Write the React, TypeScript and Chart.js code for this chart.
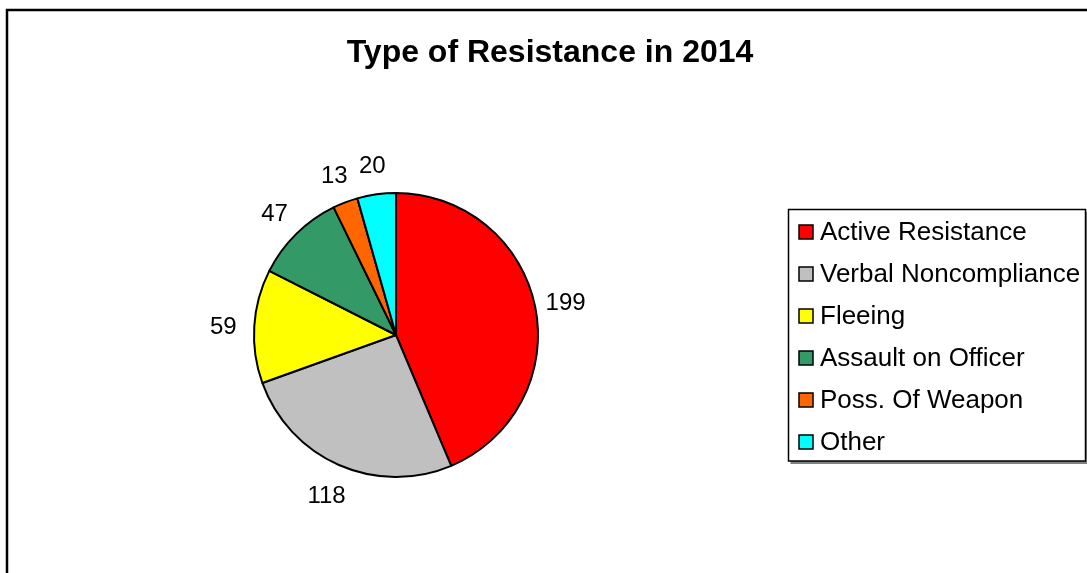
import React, { useEffect, useRef } from "react";
import { Chart, registerables } from "chart.js";

Chart.register(...registerables);

// Resistance types recorded in 2014
const categories = [
  "Active Resistance",
  "Verbal Noncompliance",
  "Fleeing",
  "Assault on Officer",
  "Poss. Of Weapon",
  "Other",
];
const counts = [199, 118, 59, 47, 13, 20];
const sliceColors = ["#FF0000", "#C0C0C0", "#FFFF00", "#339966", "#FF6600", "#00FFFF"];
const chartTitle = "Type of Resistance in 2014";

const W = 1087;
const H = 573;
const FONT = '"Liberation Sans", Arial, Helvetica, sans-serif';

// White page with the outer frame of the chart object
const framePlugin = {
  id: "frame",
  beforeDraw(chart: any) {
    const ctx = chart.ctx;
    ctx.save();
    ctx.fillStyle = "#FFFFFF";
    ctx.fillRect(0, 0, chart.width, chart.height);
    ctx.strokeStyle = "#000000";
    ctx.lineWidth = 2.5;
    ctx.strokeRect(7, 10, chart.width + 20, chart.height + 20);
    ctx.restore();
  },
};

// Title, value labels beside each slice and a boxed legend
const decorPlugin = {
  id: "decor",
  afterDraw(chart: any) {
    const ctx = chart.ctx;
    ctx.save();

    // title
    ctx.fillStyle = "#000000";
    ctx.font = `bold 32px ${FONT}`;
    ctx.textAlign = "center";
    ctx.textBaseline = "middle";
    ctx.fillText(chartTitle, 550, 53);

    // value labels outside the slices
    const meta = chart.getDatasetMeta(0);
    const values = chart.data.datasets[0].data as number[];
    ctx.font = `24px ${FONT}`;
    meta.data.forEach((arc: any, i: number) => {
      const p = arc.getProps(["x", "y", "startAngle", "endAngle", "outerRadius"], true);
      const mid = (p.startAngle + p.endAngle) / 2;
      const d = p.outerRadius + 31;
      ctx.fillText(String(values[i]), p.x + Math.cos(mid) * d, p.y + Math.sin(mid) * d + 3);
    });

    // legend box
    const bx = 788.5;
    const by = 209.5;
    const bw = 297;
    const bh = 251.5;
    ctx.fillStyle = "#808080";
    ctx.fillRect(bx + 2, by + 2, bw, bh + 1);
    ctx.fillStyle = "#FFFFFF";
    ctx.fillRect(bx, by, bw, bh);
    ctx.strokeStyle = "#000000";
    ctx.lineWidth = 1.5;
    ctx.strokeRect(bx, by, bw, bh);

    const labels = chart.data.labels as string[];
    const colors = chart.data.datasets[0].backgroundColor as string[];
    ctx.font = `26px ${FONT}`;
    ctx.textAlign = "left";
    labels.forEach((label, i) => {
      const cy = 232 + i * 42;
      ctx.fillStyle = colors[i];
      ctx.fillRect(799, cy - 7, 14, 14);
      ctx.strokeStyle = "#000000";
      ctx.lineWidth = 1.5;
      ctx.strokeRect(799, cy - 7, 14, 14);
      ctx.fillStyle = "#000000";
      ctx.fillText(label, 820, cy + 1);
    });

    ctx.restore();
  },
};

export default function App() {
  const canvasRef = useRef<HTMLCanvasElement | null>(null);

  useEffect(() => {
    if (!canvasRef.current) return;
    const chart = new Chart(canvasRef.current, {
      type: "pie",
      data: {
        labels: categories,
        datasets: [
          {
            data: counts,
            backgroundColor: sliceColors,
            borderColor: "#000000",
            borderWidth: 2,
            hoverOffset: 0,
            offset: 0,
          },
        ],
      },
      options: {
        responsive: false,
        animation: false,
        devicePixelRatio: 1,
        layout: {
          padding: { left: 253, right: W - 539, top: 192, bottom: H - 478 },
        },
        plugins: {
          legend: { display: false },
          title: { display: false },
          tooltip: { enabled: false },
        },
        events: [],
      },
      plugins: [framePlugin, decorPlugin],
    });
    return () => chart.destroy();
  }, []);

  return (
    <canvas
      ref={canvasRef}
      width={W}
      height={H}
      style={{ position: "fixed", left: 0, top: 0, display: "block" }}
    />
  );
}
